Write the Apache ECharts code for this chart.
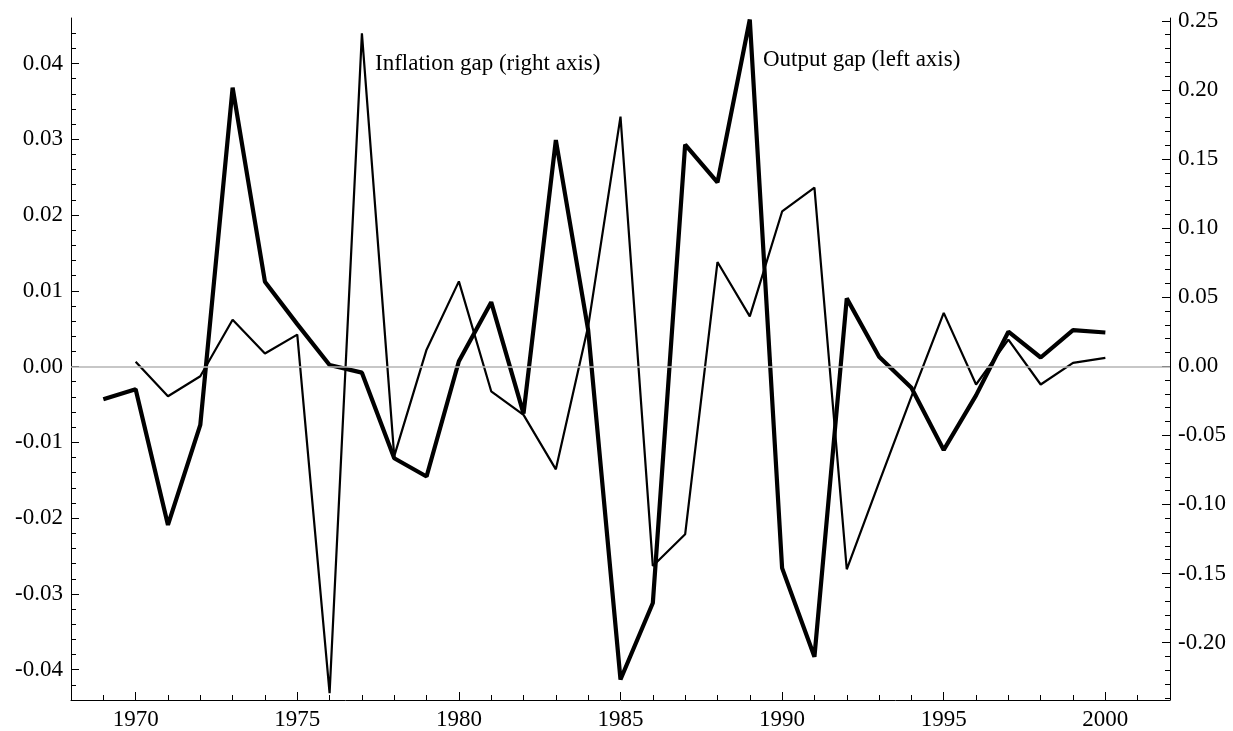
<!DOCTYPE html>
<html>
<head>
<meta charset="utf-8">
<script src="https://cdn.jsdelivr.net/npm/echarts@6/dist/echarts.min.js"></script>
<style>
  html, body { margin: 0; padding: 0; background: #fff; }
  #chart { width: 1233px; height: 731px; }
</style>
</head>
<body>
<div id="chart"></div>
<script>
// Years covered by each series
const outputYears = [1969, 1970, 1971, 1972, 1973, 1974, 1975, 1976, 1977, 1978,
  1979, 1980, 1981, 1982, 1983, 1984, 1985, 1986, 1987, 1988, 1989, 1990,
  1991, 1992, 1993, 1994, 1995, 1996, 1997, 1998, 1999, 2000];
const inflationYears = [1970, 1971, 1972, 1973, 1974, 1975, 1976, 1977, 1978,
  1979, 1980, 1981, 1982, 1983, 1984, 1985, 1986, 1987, 1988, 1989, 1990,
  1991, 1992, 1993, 1994, 1995, 1996, 1997, 1998, 1999, 2000];

// Output gap (left axis)
const outputGap = [-0.0043, -0.0030, -0.0209, -0.0077, 0.0368, 0.0112, 0.0056,
  0.0002, -0.0008, -0.0121, -0.0145, 0.0007, 0.0085, -0.0062, 0.0299, 0.0048,
  -0.0413, -0.0312, 0.0293, 0.0243, 0.0458, -0.0266, -0.0383, 0.0090, 0.0013,
  -0.0028, -0.0110, -0.0038, 0.0046, 0.0012, 0.0048, 0.0045];

// Inflation gap (right axis)
const inflationGap = [0.0033, -0.0217, -0.0072, 0.0337, 0.0092, 0.0229, -0.2365,
  0.2409, -0.0650, 0.0120, 0.0614, -0.0181, -0.0352, -0.0746, 0.0289, 0.1806,
  -0.1445, -0.1216, 0.0754, 0.0361, 0.1120, 0.1293, -0.1469, -0.0840, -0.0220,
  0.0386, -0.0132, 0.0193, -0.0132, 0.0024, 0.0061];

// Tick values
const xMajorTicks = [1970, 1975, 1980, 1985, 1990, 1995, 2000];
const leftMajorTicks = [-0.04, -0.03, -0.02, -0.01, 0.00, 0.01, 0.02, 0.03, 0.04];
const rightMajorTicks = [-0.20, -0.15, -0.10, -0.05, 0.00, 0.05, 0.10, 0.15, 0.20, 0.25];

const X_MIN = 1968, X_MAX = 2002;
const L_MIN = -0.044, L_MAX = 0.046;
const R_MIN = -0.2415, R_MAX = 0.252;

function minorTicks(lo, hi, step, majors) {
  const out = [];
  const n = Math.round((hi - lo) / step);
  for (let i = 0; i <= n; i++) {
    const v = Math.round((lo + i * step) * 1e6) / 1e6;
    if (!majors.some(m => Math.abs(m - v) < 1e-9)) out.push(v);
  }
  return out;
}
const xMinorTicks = minorTicks(1969, 2001, 1, xMajorTicks);
const leftMinorTicks = minorTicks(-0.042, 0.044, 0.002, leftMajorTicks);
const rightMinorTicks = minorTicks(-0.24, 0.25, 0.01, rightMajorTicks);

const FONT = '"Liberation Serif", "Times New Roman", serif';
const labelStyle = { color: '#000', fontFamily: FONT, fontSize: 23 };
const axisLine = { show: true, onZero: false, lineStyle: { color: '#000', width: 1 } };
const noLine = { show: false, onZero: false };

const chart = echarts.init(document.getElementById('chart'), null, { renderer: 'canvas' });

chart.setOption({
  animation: false,
  backgroundColor: '#fff',
  grid: { left: 71, right: 63, top: 18, bottom: 31, containLabel: false },
  xAxis: [
    {
      type: 'value', min: X_MIN, max: X_MAX, position: 'bottom',
      axisLine: axisLine,
      axisTick: { show: true, inside: true, length: 8, customValues: xMajorTicks, lineStyle: { color: '#000' } },
      axisLabel: { ...labelStyle, margin: 8, customValues: xMajorTicks, formatter: v => String(v) },
      splitLine: { show: false }
    },
    {
      type: 'value', min: X_MIN, max: X_MAX, position: 'bottom',
      axisLine: noLine,
      axisTick: { show: true, inside: true, length: 5, customValues: xMinorTicks, lineStyle: { color: '#000' } },
      axisLabel: { show: false },
      splitLine: { show: false }
    }
  ],
  yAxis: [
    {
      type: 'value', min: L_MIN, max: L_MAX, position: 'left',
      axisLine: axisLine,
      axisTick: { show: true, inside: true, length: 8, customValues: leftMajorTicks, lineStyle: { color: '#000' } },
      axisLabel: { ...labelStyle, margin: 8, customValues: leftMajorTicks, formatter: v => v.toFixed(2) },
      splitLine: { show: false }
    },
    {
      type: 'value', min: L_MIN, max: L_MAX, position: 'left',
      axisLine: noLine,
      axisTick: { show: true, inside: true, length: 5, customValues: leftMinorTicks, lineStyle: { color: '#000' } },
      axisLabel: { show: false },
      splitLine: { show: false }
    },
    {
      type: 'value', min: R_MIN, max: R_MAX, position: 'right',
      axisLine: axisLine,
      axisTick: { show: true, inside: true, length: 8, customValues: rightMajorTicks, lineStyle: { color: '#000' } },
      axisLabel: { ...labelStyle, margin: 8, customValues: rightMajorTicks, formatter: v => v.toFixed(2) },
      splitLine: { show: false }
    },
    {
      type: 'value', min: R_MIN, max: R_MAX, position: 'right',
      axisLine: noLine,
      axisTick: { show: true, inside: true, length: 5, customValues: rightMinorTicks, lineStyle: { color: '#000' } },
      axisLabel: { show: false },
      splitLine: { show: false }
    }
  ],
  series: [
    {
      name: 'Inflation gap', type: 'line', xAxisIndex: 0, yAxisIndex: 2,
      data: inflationYears.map((y, i) => [y, inflationGap[i]]),
      showSymbol: false, symbol: 'none',
      lineStyle: { color: '#000', width: 2.2 },
      z: 3,
      markLine: {
        silent: true, symbol: 'none', label: { show: false },
        lineStyle: { color: '#b4b4b4', width: 1.5, type: 'solid' },
        data: [{ yAxis: 0 }]
      }
    },
    {
      name: 'Output gap', type: 'line', xAxisIndex: 0, yAxisIndex: 0,
      data: outputYears.map((y, i) => [y, outputGap[i]]),
      showSymbol: false, symbol: 'none',
      lineStyle: { color: '#000', width: 4.2 },
      z: 4
    }
  ],
  graphic: [
    {
      type: 'text', left: 375, top: 52, z: 10,
      style: { text: 'Inflation gap (right axis)', fill: '#000', font: '23px ' + FONT }
    },
    {
      type: 'text', left: 763, top: 48, z: 10,
      style: { text: 'Output gap (left axis)', fill: '#000', font: '23px ' + FONT }
    }
  ]
});
</script>
</body>
</html>
